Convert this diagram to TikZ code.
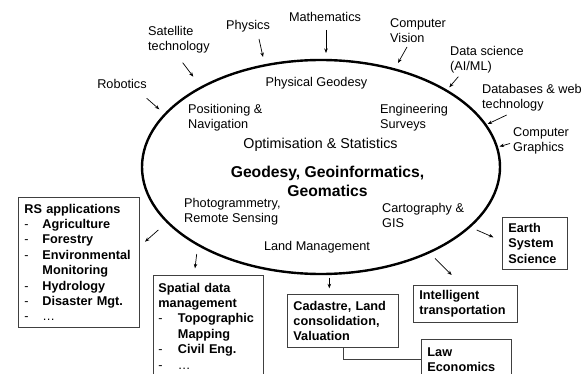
\documentclass[tikz,border=0pt]{standalone}
\usepackage{fontspec}
\setmainfont{Liberation Sans}
\usetikzlibrary{shapes.geometric,arrows.meta}
\newcommand{\itm}[2][18pt]{\makebox[#1][l]{\mdseries -}#2}
\begin{document}
\begin{tikzpicture}[x=1pt,y=-1pt,
  lab/.style={font=\fontsize{12.7}{15.4}\selectfont, inner sep=0pt, align=left},
  box/.style={draw=black!75, line width=0.9pt, anchor=north west, inner xsep=6pt, inner ysep=0pt,
     align=left, font=\bfseries\fontsize{12.7}{15.4}\selectfont},
  arr/.style={line width=0.7pt, -{Stealth[length=4.5pt,width=3.5pt]}},
  conn/.style={draw=black!75, line width=0.9pt}]
\useasboundingbox (0,0) rectangle (586,374);
\clip (0,0) rectangle (586,374);
\fill[white] (0,0) rectangle (586,374);

% central ellipse
\node[draw, ellipse, line width=2.4pt, minimum width=358pt, minimum height=214pt, inner sep=0pt] (core) at (321,167) {};

% inner labels
\node[lab] (pg) at (316.5,83) {Physical Geodesy};
\node[lab, anchor=west] (pn) at (188,117.5) {Positioning \&\\Navigation};
\node[lab, anchor=west] (es) at (380,117.5) {Engineering\\Surveys};
\node[lab, font=\fontsize{14.3}{17}\selectfont] (os) at (320.5,144.5) {Optimisation \& Statistics};
\node[lab, align=center, font=\bfseries\fontsize{15.7}{19.5}\selectfont] (title) at (327.5,181.5) {Geodesy, Geoinformatics,\\Geomatics};
\node[lab, anchor=west] (prs) at (184,211.5) {Photogrammetry,\\Remote Sensing};
\node[lab, anchor=west] (cg) at (382,215.5) {Cartography \&\\GIS};
\node[lab] (lm) at (317,247.5) {Land Management};

% outer labels
\node[lab] (rob) at (122,84) {Robotics};
\node[lab, anchor=west] (sat) at (148,40) {Satellite\\technology};
\node[lab] (phy) at (248,26) {Physics};
\node[lab] (mat) at (325,17) {Mathematics};
\node[lab, anchor=west] (cv) at (390,30.5) {Computer\\Vision};
\node[lab, anchor=west] (ds) at (450,60) {Data science\\(AI/ML)};
\node[lab, anchor=west] (db) at (482,98) {Databases \& web\\technology};
\node[lab, anchor=west] (cgr) at (513,141) {Computer\\Graphics};

% incoming arrow end points
\coordinate (robS) at (146.7,98.3);  \coordinate (robE) at (159.3,109.3);
\coordinate (satS) at (182.7,62.7);  \coordinate (satE) at (193.3,76.7);
\coordinate (phyS) at (259,39);      \coordinate (phyE) at (263,57);
\coordinate (matS) at (326,30);      \coordinate (matE) at (326,53);
\coordinate (cvS) at (407,47);       \coordinate (cvE) at (398,63);
\coordinate (dsS) at (458.3,76.7);   \coordinate (dsE) at (449.3,87.3);
\coordinate (dbS) at (506.7,115);    \coordinate (dbE) at (487.7,124);
\coordinate (cgrS) at (510,143.5);   \coordinate (cgrE) at (499.5,146.5);
\foreach \n in {rob,sat,phy,mat,cv,ds,db,cgr}{\draw[arr] (\n S) -- (\n E);}

% boxes
\node[box, text width=109pt, minimum height=130pt] (rs) at (18,197) {RS applications\\
\itm{Agriculture}\\ \itm{Forestry}\\ \itm{Environmental}\\ \hspace*{18pt}Monitoring\\
\itm{Hydrology}\\ \itm{Disaster Mgt.}\\ \itm{\mdseries\dots}};
\node[box, inner xsep=5pt, text width=100pt, minimum height=101pt] (sdm) at (153,275) {Spatial data\\management\\
\itm[19.5pt]{Topographic}\\ \hspace*{19.5pt}Mapping\\ \itm[19.5pt]{Civil Eng.}\\ \itm[19.5pt]{\mdseries\dots}};
\node[box, text width=99pt, minimum height=53pt] (cad) at (287,294) {Cadastre, Land\\consolidation,\\Valuation};
\node[box, text width=92pt, minimum height=37pt] (its) at (413,285) {Intelligent\\transportation};
\node[box, text width=53pt, minimum height=52pt] (ess) at (502,217) {Earth\\System\\Science};
\node[box, text width=78pt, minimum height=40pt] (law) at (421,339) {Law\\Economics};

\draw[conn] (cad.south) |- (law.west);

% outgoing arrows
\coordinate (rsS) at (158.3,230);    \coordinate (rsE) at (145,241.7);
\coordinate (sdmS) at (196.7,254);   \coordinate (sdmE) at (195,268.3);
\coordinate (cadS) at (329.3,277.5); \coordinate (cadE) at (329.3,288.3);
\coordinate (itsS) at (435,258.3);   \coordinate (itsE) at (451.7,275);
\coordinate (essS) at (476.7,230);   \coordinate (essE) at (493.3,237.3);
\foreach \n in {rs,sdm,cad,its,ess}{\draw[arr] (\n S) -- (\n E);}
\end{tikzpicture}
\end{document}
